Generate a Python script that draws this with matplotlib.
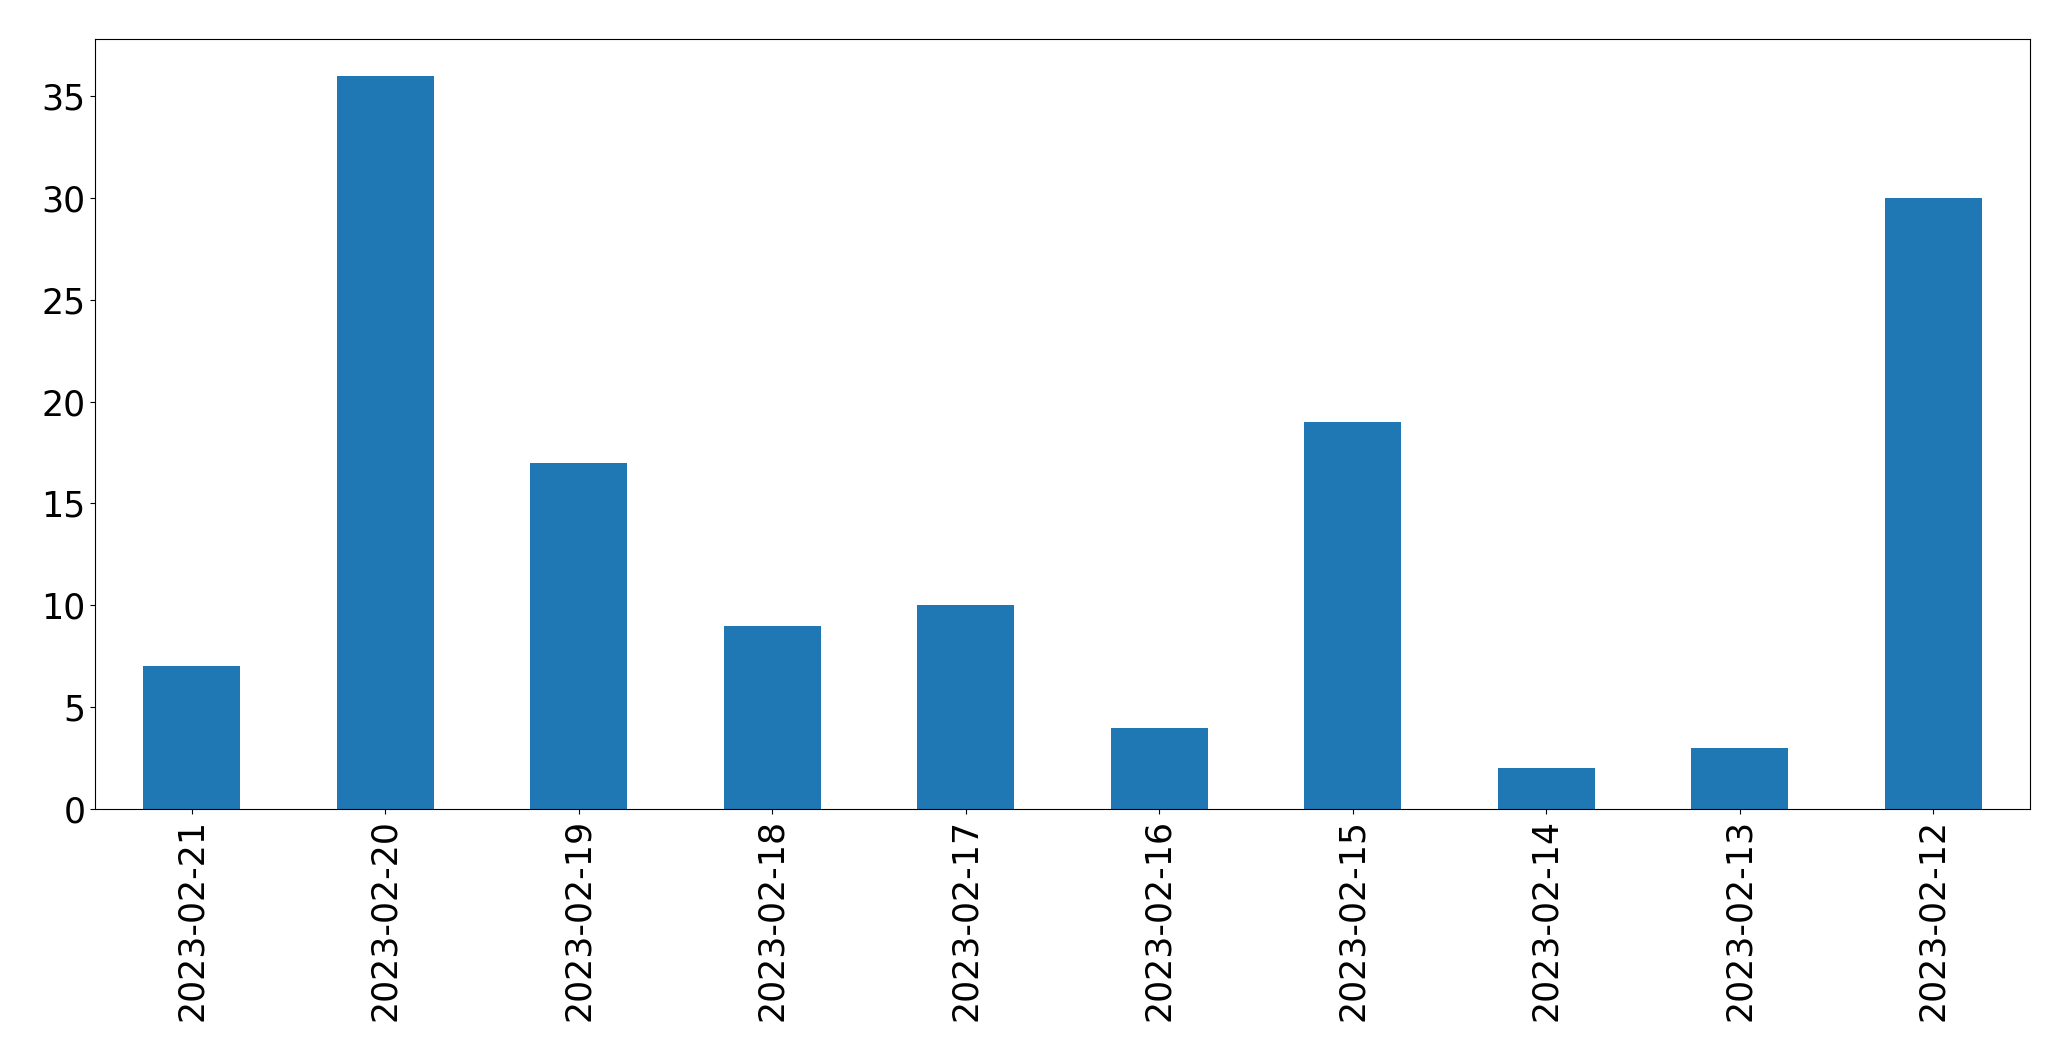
import matplotlib
matplotlib.use("Agg")
import matplotlib.pyplot as plt
import numpy as np

# daily counts, newest first (as in the source chart)
dates = ['2023-02-21', '2023-02-20', '2023-02-19', '2023-02-18', '2023-02-17',
         '2023-02-16', '2023-02-15', '2023-02-14', '2023-02-13', '2023-02-12']
counts = [7, 36, 17, 9, 10, 4, 19, 2, 3, 30]

plt.rcParams['font.size'] = 25

fig = plt.figure(figsize=(20.71, 10.61), dpi=100)
ax = fig.add_axes([95/2071, 1 - 809/1061, (2030 - 95)/2071, (809 - 39)/1061])

x = np.arange(len(dates))
ax.bar(x, counts, width=0.5, color='#1f77b4')
ax.set_xlim(-0.5, len(dates) - 0.5)
ax.set_xticks(x)
ax.set_xticklabels(dates, rotation=90)

fig.savefig('out.png', dpi=100)
